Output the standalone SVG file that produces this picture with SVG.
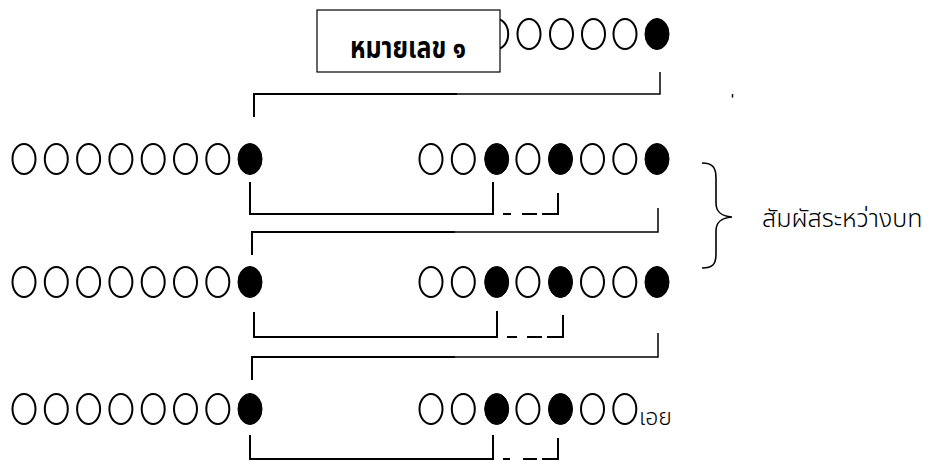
<svg xmlns="http://www.w3.org/2000/svg" width="928" height="461" viewBox="0 0 928 461">
<style>
.o{fill:#fff;stroke:#000;stroke-width:2}
.f{fill:#000;stroke:#000;stroke-width:1}
.ln{fill:none;stroke:#000;stroke-width:2;stroke-linecap:butt}
.thin{fill:none;stroke:#000;stroke-width:1.5}
.th{font-family:"Noto Sans Thai","Noto Sans","DejaVu Sans",sans-serif;fill:#000}
</style>
<defs>
<ellipse id="w" rx="11.5" ry="15" class="o"/>
<ellipse id="b" rx="12" ry="15.5" class="f"/>
</defs>
<rect width="928" height="461" fill="#fff"/>

<g id="row0">
<use href="#w" x="431" y="34"/><use href="#w" x="463.3" y="34"/><use href="#w" x="496.7" y="34"/><use href="#w" x="529" y="34"/>
<use href="#w" x="561.5" y="34"/><use href="#w" x="593.5" y="34"/><use href="#w" x="625" y="34"/><use href="#b" x="657" y="34"/>
</g>
<g id="title">
<rect x="317" y="10" width="183" height="62" fill="#fff" stroke="#000" stroke-width="1.2"/>
<text class="th" x="408" y="58" font-size="25" font-weight="bold" text-anchor="middle" transform="translate(0,58) scale(1,1.2) translate(0,-58)">หมายเลข ๑</text>
</g>

<g id="row1-left">
<use href="#w" x="24" y="159"/><use href="#w" x="56.3" y="159"/><use href="#w" x="88.6" y="159"/><use href="#w" x="120.9" y="159"/>
<use href="#w" x="153.2" y="159"/><use href="#w" x="185.5" y="159"/><use href="#w" x="217.8" y="159"/><use href="#b" x="250" y="159"/>
</g>
<g id="row1-right">
<use href="#w" x="431" y="159"/><use href="#w" x="463.3" y="159"/><use href="#b" x="496.7" y="159"/><use href="#w" x="527.9" y="159"/>
<use href="#b" x="560.5" y="159"/><use href="#w" x="592.5" y="159"/><use href="#w" x="624.8" y="159"/><use href="#b" x="657" y="159"/>
</g>

<g id="row2-left">
<use href="#w" x="24" y="282"/><use href="#w" x="56.3" y="282"/><use href="#w" x="88.6" y="282"/><use href="#w" x="120.9" y="282"/>
<use href="#w" x="153.2" y="282"/><use href="#w" x="185.5" y="282"/><use href="#w" x="217.8" y="282"/><use href="#b" x="250" y="282"/>
</g>
<g id="row2-right">
<use href="#w" x="431" y="282"/><use href="#w" x="463.3" y="282"/><use href="#b" x="496.7" y="282"/><use href="#w" x="527.9" y="282"/>
<use href="#b" x="560.5" y="282"/><use href="#w" x="592.5" y="282"/><use href="#w" x="624.8" y="282"/><use href="#b" x="657" y="282"/>
</g>

<g id="row3-left">
<use href="#w" x="24" y="409"/><use href="#w" x="56.3" y="409"/><use href="#w" x="88.6" y="409"/><use href="#w" x="120.9" y="409"/>
<use href="#w" x="153.2" y="409"/><use href="#w" x="185.5" y="409"/><use href="#w" x="217.8" y="409"/><use href="#b" x="250" y="409"/>
</g>
<g id="row3-right">
<use href="#w" x="431" y="409"/><use href="#w" x="463.3" y="409"/><use href="#b" x="496.7" y="409"/><use href="#w" x="527.9" y="409"/>
<use href="#b" x="560.5" y="409"/><use href="#w" x="592.5" y="409"/><use href="#w" x="624.8" y="409"/>
<text class="th" x="639" y="425" font-size="23" font-weight="300">เอย</text>
</g>

<g id="connectors">
<path class="ln" d="M254 117 V94 H457"/>
<path class="thin" d="M457 94 H660 V72"/>
<path class="ln" d="M250 182 V214 H493 V182"/>
<path class="ln" d="M503 214 H511 M522 214 H537 M542 214 H558 V193"/>
<path class="ln" d="M252 255 V232 H455"/>
<path class="thin" d="M455 232 H658 V208"/>
<path class="ln" d="M254 312 V337 H497 V311"/>
<path class="ln" d="M507 337 H517 M527 337 H542 M547 337 H563 V315"/>
<path class="ln" d="M252 380 V357 H455"/>
<path class="thin" d="M455 357 H658 V333"/>
<path class="ln" d="M250 435 V459 H493 V435"/>
<path class="ln" d="M503 459 H510 M523 459 H537 M542 459 H558 V438"/>
<path class="thin" d="M732.5 94 V97.5" stroke-width="1"/>
</g>

<g id="brace">
<path d="M702 163 C713 163 716 168 716 178 V203 C716 212 721 216 732 217 C721 218 716 222 716 231 V254 C716 264 713 268 702 268" fill="none" stroke="#000" stroke-width="1.6"/>
<text class="th" x="762" y="227" font-size="25" font-weight="300">สัมผัสระหว่างบท</text>
</g>
</svg>
